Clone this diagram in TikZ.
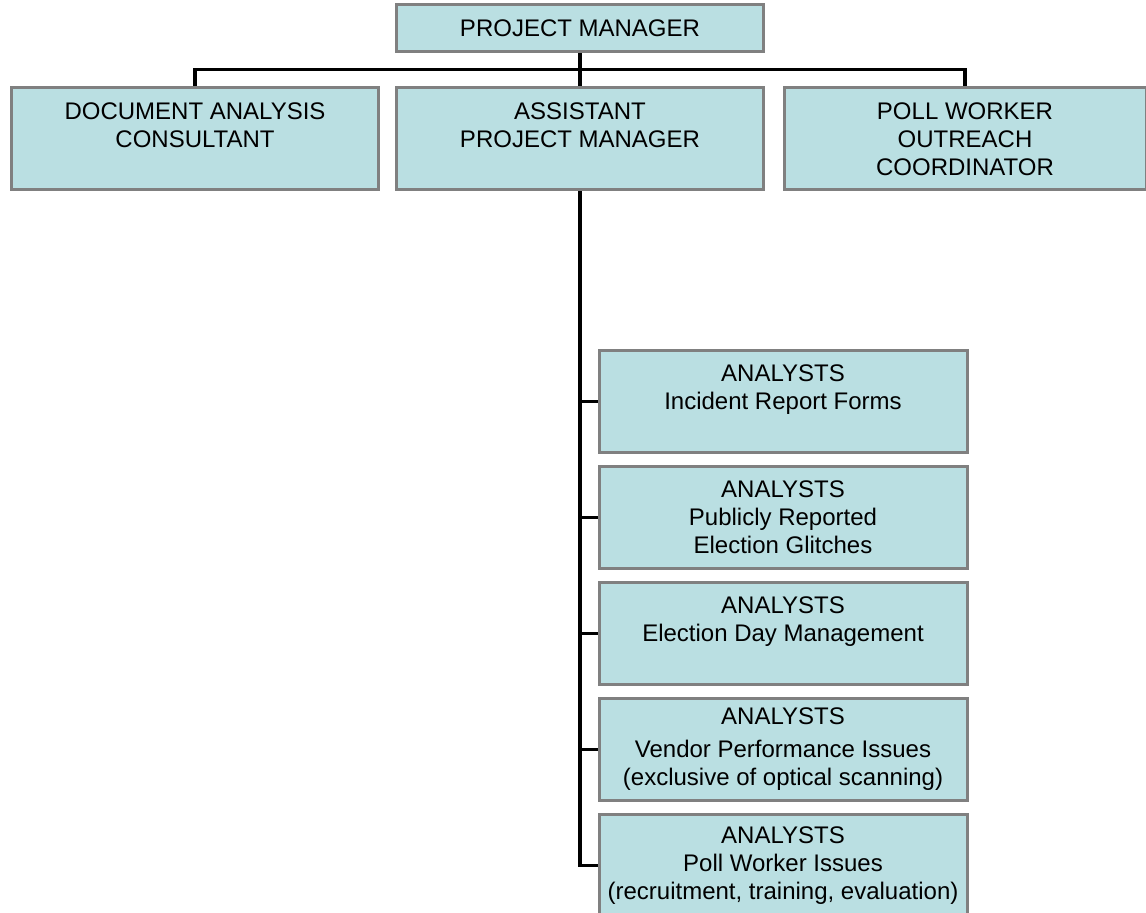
\documentclass[tikz,border=0pt]{standalone}
\usepackage{fontspec}
\setmainfont{Liberation Sans}
\usetikzlibrary{trees}

\definecolor{boxfill}{RGB}{186,223,226}
\definecolor{boxline}{RGB}{128,128,128}

\begin{document}
\begin{tikzpicture}[x=0.5pt,y=0.5pt,
	box/.style={draw=boxline,line width=1.5pt,fill=boxfill,
		minimum width=183.5pt,minimum height=51pt,align=center,
		font=\fontsize{12}{14}\selectfont},
	level 1/.style={sibling distance=192.5pt,level distance=55.25pt,
		edge from parent path={(\tikzparentnode.south) -- ++(0,-16) -| (\tikzchildnode.north)}},
	level 2/.style={grow via three points={one child at (203,-262.5) and two children at (203,-262.5) and (203,-378.5)},
		edge from parent path={(\tikzparentnode.south) |- (\tikzchildnode.west)}},
	edge from parent/.style={draw,line width=1.7pt}]
	\useasboundingbox (0,0) rectangle (1146,-913);
	\node[box,minimum height=23.5pt] (pm) at (580,-28.5) {PROJECT MANAGER}
	child {node[box] (dac) {DOCUMENT ANALYSIS\\CONSULTANT\\~}}
	child {node[box] (apm) {ASSISTANT\\PROJECT MANAGER\\~}
		child {node[box,minimum width=184pt] (irf) {ANALYSTS\\Incident Report Forms\\~}}
		child {node[box,minimum width=184pt] (glitch) {ANALYSTS\\Publicly Reported\\Election Glitches}}
		child {node[box,minimum width=184pt] (eday) {ANALYSTS\\Election Day Management\\~}}
		child {node[box,minimum width=184pt] (vendor) {ANALYSTS\\[2.5pt]Vendor Performance Issues\\(exclusive of optical scanning)}}
		child {node[box,minimum width=184pt] (pwi) {ANALYSTS\\Poll Worker Issues\\(recruitment, training, evaluation)}}
	}
	child {node[box,minimum width=181pt] (pwoc) {POLL WORKER\\OUTREACH\\COORDINATOR}};
\end{tikzpicture}
\end{document}
